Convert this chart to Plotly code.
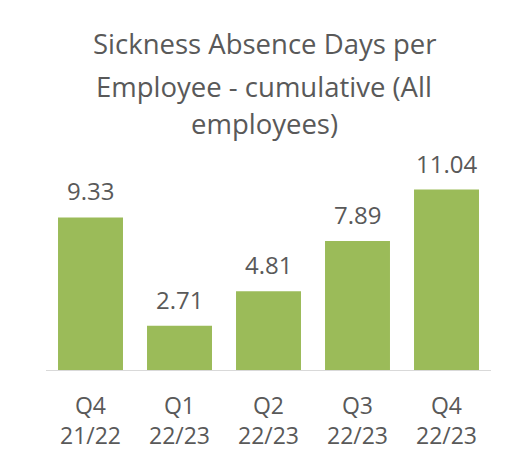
import plotly.graph_objects as go

quarters = ["Q4<br>21/22", "Q1<br>22/23", "Q2<br>22/23", "Q3<br>22/23", "Q4<br>22/23"]
days = [9.33, 2.71, 4.81, 7.89, 11.04]
title_lines = ["Sickness Absence Days per", "Employee - cumulative (All", "employees)"]

FONT = "Open Sans"
TXT = "#595959"
BAR = "#9BBB59"

fig = go.Figure()
fig.add_trace(go.Bar(x=quarters, y=days, marker=dict(color=BAR, line=dict(width=0)),
                     hoverinfo="x+y"))

for q, v in zip(quarters, days):
    fig.add_annotation(x=q, y=v, text=f"{v:.2f}", showarrow=False, yanchor="bottom",
                       yshift=8, font=dict(family=FONT, size=24, color=TXT))

W, H = 518, 454
L, R, T, B = 38, 35, 132, 92
ph = H - T - B

for line, cy in zip(title_lines, [36, 78, 116]):
    fig.add_annotation(text=line, xref="paper", yref="paper", x=0.49,
                       y=(H - B - cy) / ph, xanchor="center", yanchor="middle",
                       showarrow=False, font=dict(family=FONT, size=27.5, color=TXT))

fig.update_layout(
    width=W, height=H,
    margin=dict(l=L, r=R, t=T, b=B),
    paper_bgcolor="white", plot_bgcolor="white",
    bargap=0.27,
    showlegend=False,
    xaxis=dict(showline=True, linecolor="#D9D9D9", linewidth=1, ticks="",
               showgrid=False, tickfont=dict(family=FONT, size=23, color=TXT),
               ticklabelstandoff=15),
    yaxis=dict(range=[0, 14.07], visible=False, showgrid=False, zeroline=False),
)

fig.write_html("out.html")
